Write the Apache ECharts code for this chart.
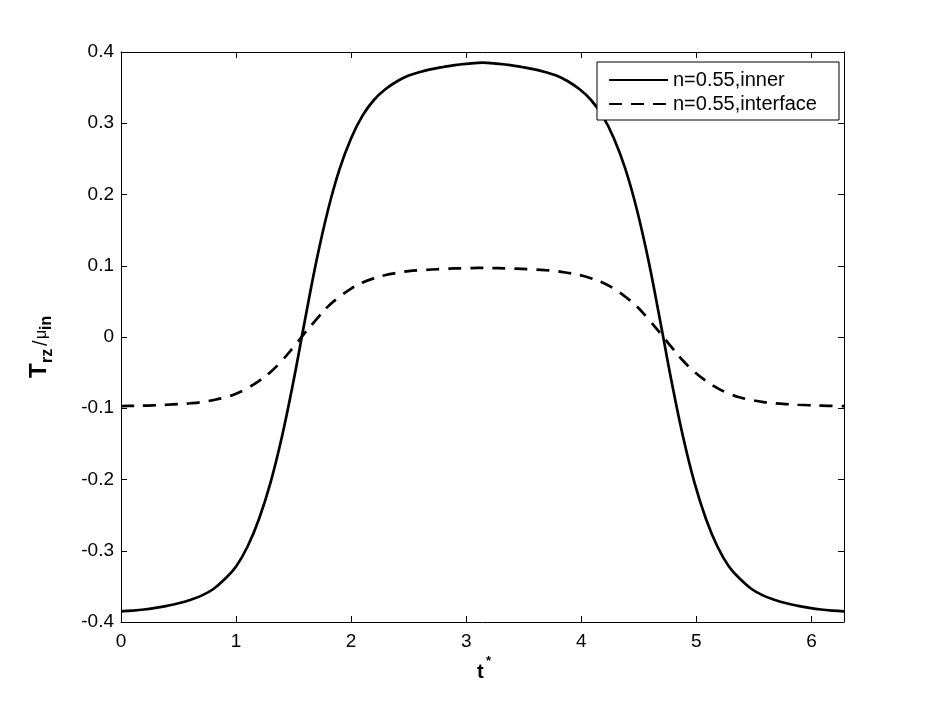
<!DOCTYPE html>
<html><head><meta charset="utf-8">
<script src="https://cdn.jsdelivr.net/npm/echarts@6/dist/echarts.min.js"></script>
<style>html,body{margin:0;padding:0;background:#fff}#c{width:934px;height:703px}</style>
</head><body><div id="c"></div>
<script>
// ---- data ----
const tValues = [
  0, 0.1, 0.2, 0.3, 0.4, 0.5, 0.6, 0.7, 0.8, 0.9, 1.0, 1.1, 1.2, 1.3, 1.4, 1.5,
  1.6, 1.7, 1.8, 1.9, 2.0, 2.1, 2.2, 2.3, 2.4, 2.5, 2.6, 2.7, 2.8, 2.9, 3.0, 3.1,
  3.1416,
  3.183, 3.283, 3.383, 3.483, 3.583, 3.683, 3.783, 3.883, 3.983, 4.083, 4.183, 4.283, 4.383, 4.483, 4.583, 4.683,
  4.783, 4.883, 4.983, 5.083, 5.183, 5.283, 5.383, 5.483, 5.583, 5.683, 5.783, 5.883, 5.983, 6.083, 6.183, 6.283
];
const innerValues = [
  -0.385, -0.384, -0.3825, -0.3802, -0.3773, -0.3737, -0.369, -0.363, -0.354, -0.340, -0.322, -0.294, -0.255, -0.204, -0.139, -0.061,
  0.025, 0.108, 0.179, 0.236, 0.279, 0.311, 0.333, 0.348, 0.359, 0.367, 0.372, 0.376, 0.379, 0.3816, 0.3834, 0.3847,
  0.385,
  0.3847, 0.3834, 0.3816, 0.379, 0.376, 0.372, 0.367, 0.359, 0.348, 0.333, 0.311, 0.279, 0.236, 0.179, 0.108, 0.025,
  -0.061, -0.139, -0.204, -0.255, -0.294, -0.322, -0.340, -0.354, -0.363, -0.369, -0.3737, -0.3773, -0.3802, -0.3825, -0.384, -0.385
];
const interfaceValues = [
  -0.097, -0.0967, -0.0964, -0.0958, -0.0951, -0.0942, -0.093, -0.0913, -0.0886, -0.085, -0.0795, -0.0717, -0.0615, -0.049, -0.033, -0.014,
  0.006, 0.025, 0.043, 0.0565, 0.068, 0.0765, 0.0825, 0.087, 0.090, 0.0925, 0.0938, 0.0947, 0.0955, 0.0962, 0.0966, 0.0969,
  0.097,
  0.0969, 0.0966, 0.0962, 0.0955, 0.0947, 0.0938, 0.0925, 0.090, 0.087, 0.0825, 0.0765, 0.068, 0.0565, 0.043, 0.025, 0.006,
  -0.014, -0.033, -0.049, -0.0615, -0.0717, -0.0795, -0.085, -0.0886, -0.0913, -0.093, -0.0942, -0.0951, -0.0958, -0.0964, -0.0967, -0.097
];
const seriesNames = ['n=0.55,inner', 'n=0.55,interface'];
const xTickLabels = [0, 1, 2, 3, 4, 5, 6];
const yTickLabels = [-0.4, -0.3, -0.2, -0.1, 0, 0.1, 0.2, 0.3, 0.4];
const xMin = 0, xMax = 6.2832, yMin = -0.4, yMax = 0.4;

const FONT = '"Liberation Sans", Arial, Helvetica, sans-serif';
const chart = echarts.init(document.getElementById('c'));

function xFmt(v) { return xTickLabels.some(t => Math.abs(t - v) < 1e-9) ? String(Math.round(v)) : ''; }
function yFmt(v) { const r = Math.round(v * 10) / 10; return yTickLabels.some(t => Math.abs(t - r) < 1e-9) ? String(r === 0 ? 0 : r) : ''; }

const frameLine = { show: true, onZero: false, lineStyle: { color: '#000', width: 1 } };
const inTick = { show: true, inside: true, length: 6, lineStyle: { color: '#000', width: 1 } };

const option = {
  animation: false,
  backgroundColor: '#fff',
  grid: { left: 121, right: 90, top: 52, bottom: 81 },
  xAxis: [
    { type: 'value', min: xMin, max: xMax, interval: 1, position: 'bottom',
      axisLine: frameLine, axisTick: inTick, splitLine: { show: false },
      axisLabel: { formatter: xFmt, color: '#000', fontSize: 19, fontFamily: FONT, margin: 10, showMaxLabel: false } },
    { type: 'value', min: xMin, max: xMax, interval: 1, position: 'top',
      axisLine: frameLine, axisTick: inTick, splitLine: { show: false }, axisLabel: { show: false } }
  ],
  yAxis: [
    { type: 'value', min: yMin, max: yMax, interval: 0.1, position: 'left',
      axisLine: frameLine, axisTick: inTick, splitLine: { show: false },
      axisLabel: { formatter: yFmt, color: '#000', fontSize: 19, fontFamily: FONT, margin: 7 } },
    { type: 'value', min: yMin, max: yMax, interval: 0.1, position: 'right',
      axisLine: frameLine, axisTick: inTick, splitLine: { show: false }, axisLabel: { show: false } }
  ],
  legend: {
    orient: 'vertical', left: 597, top: 62,
    itemWidth: 59, itemHeight: 14, itemGap: 4,
    padding: [8, 22, 6, 11],
    borderColor: '#000', borderWidth: 1, backgroundColor: '#fff',
    itemStyle: { opacity: 0 },
    textStyle: { fontSize: 20, color: '#000', fontFamily: FONT, lineHeight: 20 },
    data: seriesNames
  },
  series: [
    { type: 'line', name: seriesNames[0], data: tValues.map((t, i) => [t, innerValues[i]]),
      symbol: 'none', showSymbol: false, smooth: 0.4,
      lineStyle: { color: '#000', width: 2.7 }, itemStyle: { color: '#000' } },
    { type: 'line', name: seriesNames[1], data: tValues.map((t, i) => [t, interfaceValues[i]]),
      symbol: 'none', showSymbol: false, smooth: 0.4,
      lineStyle: { color: '#000', width: 2.7, type: [13, 9] }, itemStyle: { color: '#000' } }
  ],
  graphic: [
    { type: 'group', x: 47, y: 378, rotation: Math.PI / 2, children: [
      { type: 'text', x: 0, y: 4, style: { text: 'T', font: 'bold 24px ' + FONT, fill: '#000', verticalAlign: 'bottom' } },
      { type: 'text', x: 15, y: 9, style: { text: 'rz', font: 'bold 16px ' + FONT, fill: '#000', verticalAlign: 'bottom' } },
      { type: 'text', x: 32, y: 4, style: { text: '/', font: '20px ' + FONT, fill: '#000', verticalAlign: 'bottom' } },
      { type: 'text', x: 39, y: 3, style: { text: 'μ', font: '16px ' + FONT, fill: '#000', verticalAlign: 'bottom' } },
      { type: 'text', x: 48, y: 8, style: { text: 'in', font: 'bold 16px ' + FONT, fill: '#000', verticalAlign: 'bottom' } }
    ] },
    { type: 'text', left: 477, top: 662, style: { text: 't', font: 'bold 20px ' + FONT, fill: '#000' } },
    { type: 'text', left: 486, top: 655, style: { text: '*', font: 'bold 13px ' + FONT, fill: '#000' } }
  ]
};
chart.setOption(option);
</script>
</body></html>
